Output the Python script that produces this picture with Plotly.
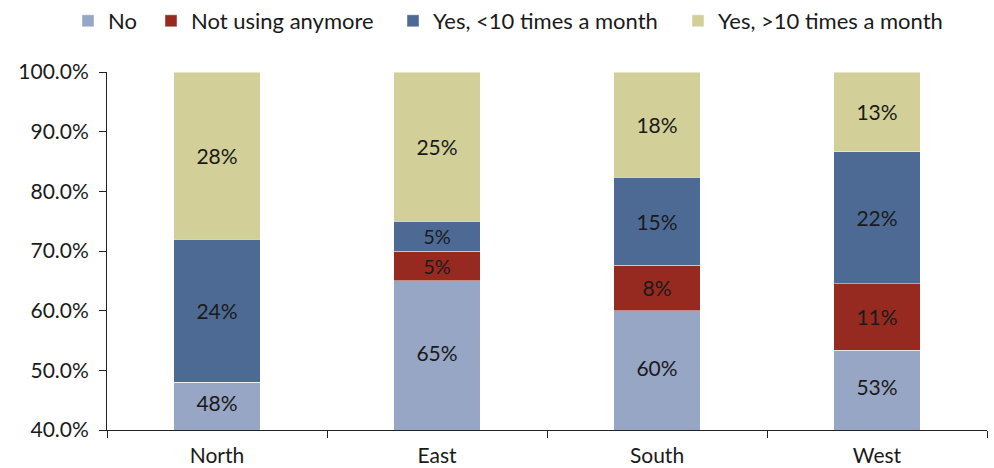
import plotly.graph_objects as go

regions = ["North", "East", "South", "West"]
no = [0.48, 0.65, 0.60, 0.534]
not_using = [0.0, 0.05, 0.076, 0.111]
yes_lt10 = [0.24, 0.05, 0.148, 0.221]
yes_gt10 = [0.28, 0.25, 0.176, 0.134]

Y_MIN, Y_MAX = 0.4, 1.0
FONT = "Lato, sans-serif"
TXT = "#1a1a1a"
W, H = 994, 468

series = [
    ("No", no, "#97A6C4"),
    ("Not using anymore", not_using, "#972A20"),
    ("Yes, <10 times a month", yes_lt10, "#4D6A95"),
    ("Yes, >10 times a month", yes_gt10, "#D2D098"),
]
# left edge (px) of each legend entry along the top row
legend_x = [68, 151, 393, 678]
legend_ids = ["legend", "legend2", "legend3", "legend4"]

fig = go.Figure()
for i, (name, vals, color) in enumerate(series):
    fig.add_trace(go.Bar(
        name=name,
        x=regions,
        y=vals,
        legend=legend_ids[i],
        marker=dict(color=color, line=dict(color="rgba(255,255,255,0.45)", width=1)),
        # bottom segment is clipped by the axis minimum, so its labels are
        # placed separately at the middle of the visible part
        texttemplate=None if i == 0 else [("%{y:.0%}" if v > 0 else "") for v in vals],
        textposition="inside" if i else "none",
        insidetextanchor="middle",
        textangle=0,
        textfont=dict(family=FONT, size=21, color=TXT),
        width=0.395,
    ))

fig.add_trace(go.Scatter(
    x=regions,
    y=[(Y_MIN + v) / 2 for v in no],
    mode="text",
    text=[f"{v:.0%}" for v in no],
    textfont=dict(family=FONT, size=21, color=TXT),
    showlegend=False,
    hoverinfo="skip",
))

layout_legends = {}
for lid, lx in zip(legend_ids, legend_x):
    layout_legends[lid] = dict(
        orientation="h",
        xref="container", yref="container",
        x=lx / W, xanchor="left",
        y=1.0, yanchor="top",
        font=dict(family=FONT, size=22, color=TXT),
        itemwidth=30,
        bgcolor="rgba(0,0,0,0)",
    )

fig.update_layout(
    barmode="stack",
    width=W,
    height=H,
    margin=dict(l=107, r=7, t=72, b=38),
    paper_bgcolor="white",
    plot_bgcolor="white",
    font=dict(family=FONT, size=21, color=TXT),
    **layout_legends,
)

fig.update_xaxes(
    showline=True, linecolor="#222", linewidth=1,
    ticks="outside", tickson="boundaries", ticklen=7, tickcolor="#222",
    tickfont=dict(family=FONT, size=21),
    ticklabelstandoff=7,
    automargin=False,
    showgrid=False,
)
fig.update_yaxes(
    range=[Y_MIN, Y_MAX],
    tickvals=[0.4, 0.5, 0.6, 0.7, 0.8, 0.9, 1.0],
    tickformat=".1%",
    showline=True, linecolor="#222", linewidth=1,
    ticks="outside", ticklen=7, tickcolor="#222",
    tickfont=dict(family=FONT, size=21),
    ticklabelstandoff=6,
    automargin=False,
    showgrid=False, zeroline=False,
)

fig.write_html("out.html")
